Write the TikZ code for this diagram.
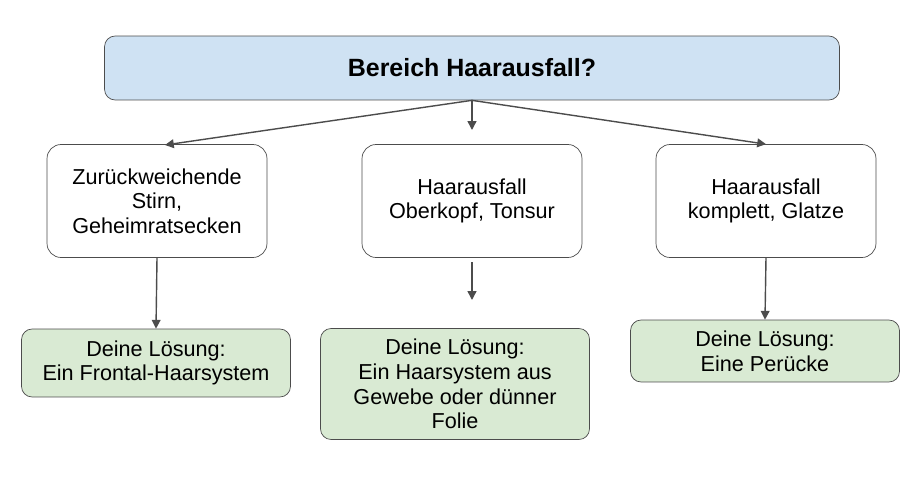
\documentclass[tikz,border=0pt]{standalone}
\usepackage{fontspec}
\setmainfont{Liberation Sans}
\usetikzlibrary{arrows.meta, positioning}
\definecolor{headblue}{HTML}{CFE2F3}
\definecolor{fixgreen}{HTML}{D9EAD3}
\begin{document}
\begin{tikzpicture}[x=0.02cm, y=-0.02cm,
            headbox/.style={rectangle, rounded corners=6pt, draw=black!70, fill=headblue, minimum width=14.7cm, minimum height=1.28cm, font=\fontsize{14.2}{16}\selectfont\bfseries},
            areabox/.style={rectangle, rounded corners=8pt, draw=black!70, fill=white, minimum width=4.4cm, minimum height=2.26cm, align=center, font=\fontsize{12.3}{14}\selectfont},
            fixbox/.style={rectangle, rounded corners=6pt, draw=black!70, fill=fixgreen, minimum width=5.38cm, align=center, font=\fontsize{12.3}{14}\selectfont},
            arr/.style={-{Triangle[length=5pt,width=5pt]}, draw=black!70, thick},
            ]
            \useasboundingbox (0,0) rectangle (924,477);
            \node[headbox]               (top)  at (472,68)  {Bereich Haarausfall?};
            \node[areabox]               (ar1)  at (157,201) {Zurückweichende\\Stirn,\\Geheimratsecken};
            \node[areabox]               (ar2)  at (472,201) {Haarausfall\\Oberkopf, Tonsur};
            \node[areabox]               (ar3)  at (766,201) {Haarausfall\\komplett, Glatze};
            \node[fixbox, minimum height=1.36cm] (fx1) at (156,363) {Deine Lösung:\\Ein Frontal-Haarsystem};
            \node[fixbox, minimum height=2.22cm] (fx2) at (455,384) {Deine Lösung:\\Ein Haarsystem aus\\Gewebe oder dünner\\Folie};
            \node[fixbox, minimum height=1.24cm] (fx3) at (765,351) {Deine Lösung:\\Eine Perücke};

            \coordinate (m1) at (472,130);
            \coordinate (m2) at (472,262);
            \coordinate (m3) at (472,300);

            \draw[arr] (top.south) -- (165,145);
            \draw[arr] (top.south) -- (m1);
            \draw[arr] (top.south) -- (ar3.north);
            \draw[arr] (ar1.south) -- (fx1.north);
            \draw[arr] (m2) -- (m3);
            \draw[arr] (ar3.south) -- (fx3.north);
        \end{tikzpicture}
\end{document}
